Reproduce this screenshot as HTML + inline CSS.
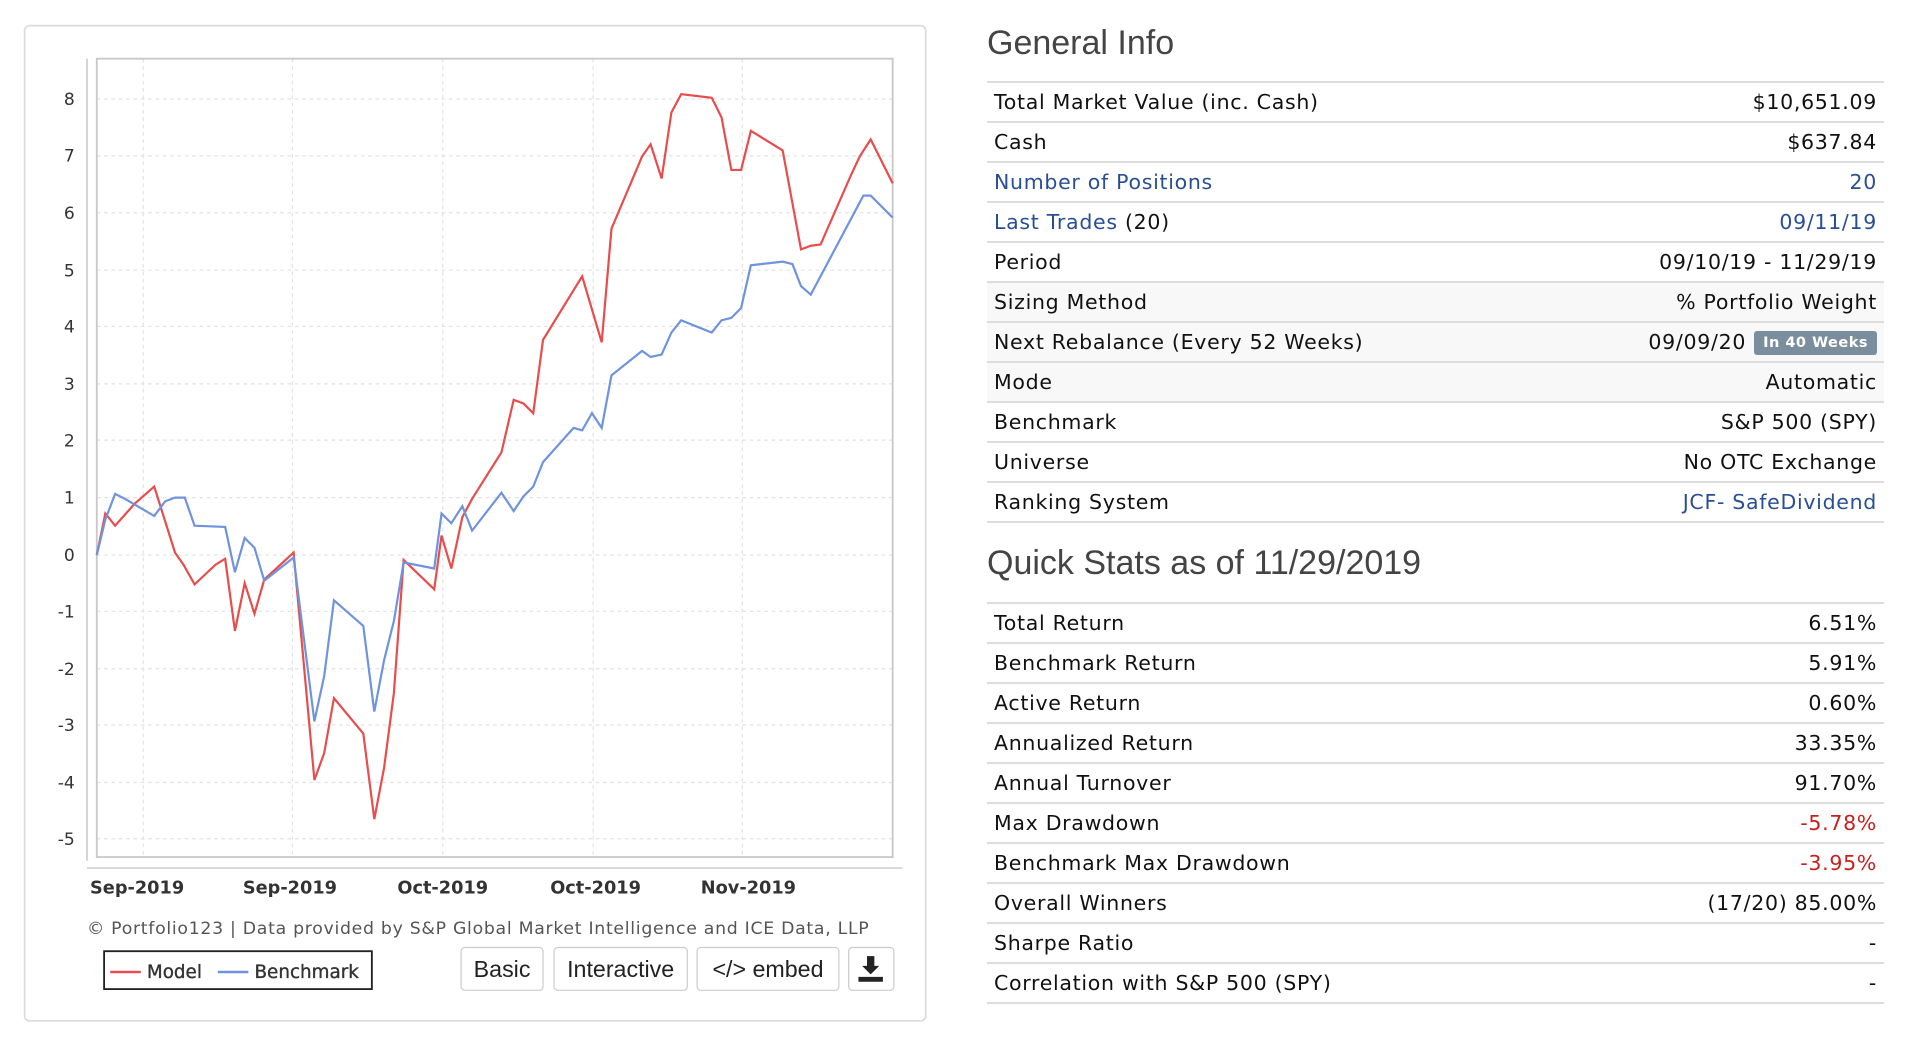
<!DOCTYPE html>
<html><head><meta charset="utf-8"><style>
body{margin:0;width:1908px;height:1038px;background:#fff;position:relative;overflow:hidden;font-family:"DejaVu Sans",Verdana,sans-serif;}
.h{position:absolute;left:987px;font-family:"Liberation Sans",Arial,sans-serif;font-size:34px;color:#444;}
table{position:absolute;left:987px;width:897px;border-collapse:collapse;font-size:20.5px;letter-spacing:0.7px;color:#111;}
td{height:38px;border-top:2px solid #ddd;padding:0 7px;white-space:nowrap;}
tr:last-child td{border-bottom:2px solid #ddd;}
td.r{text-align:right;}
.l{color:#2a4e94}.red{color:#c8201e}
.s td{background:#f8f8f8}
.badge{display:inline-block;background:#7a8e9e;color:#fff;font-weight:bold;font-size:14.5px;letter-spacing:0.5px;padding:4px 9px;border-radius:3px;margin-left:8px;vertical-align:2px}
</style></head><body>
<svg style="position:absolute;left:0;top:0" width="954" height="1038" viewBox="0 0 780 849">
<rect x="20" y="21" width="737" height="814" rx="4" fill="#fff" stroke="#ddd" stroke-width="1.5"/>
<g stroke="#e2e2e2" stroke-dasharray="3,3" stroke-width="1">
<line x1="79" x2="730" y1="81" y2="81"/><line x1="79" x2="730" y1="127.5" y2="127.5"/><line x1="79" x2="730" y1="174" y2="174"/><line x1="79" x2="730" y1="221" y2="221"/><line x1="79" x2="730" y1="267" y2="267"/><line x1="79" x2="730" y1="314" y2="314"/><line x1="79" x2="730" y1="360" y2="360"/><line x1="79" x2="730" y1="407" y2="407"/><line x1="79" x2="730" y1="454" y2="454"/><line x1="79" x2="730" y1="500" y2="500"/><line x1="79" x2="730" y1="547" y2="547"/><line x1="79" x2="730" y1="593" y2="593"/><line x1="79" x2="730" y1="640" y2="640"/><line x1="79" x2="730" y1="686" y2="686"/>
<line y1="48" y2="700" x1="117" x2="117"/><line y1="48" y2="700" x1="239" x2="239"/><line y1="48" y2="700" x1="362" x2="362"/><line y1="48" y2="700" x1="485" x2="485"/><line y1="48" y2="700" x1="607" x2="607"/>
</g>
<rect x="79" y="48" width="651" height="653" fill="none" stroke="#c8c8c8" stroke-width="1.5"/>
<line x1="71" y1="48" x2="71" y2="704" stroke="#bbb"/>
<line x1="71" y1="710" x2="738" y2="710" stroke="#bbb"/>
<g font-family="DejaVu Sans,sans-serif" font-size="14" fill="#333" text-anchor="end">
<text x="61" y="86">8</text><text x="61" y="132">7</text><text x="61" y="179">6</text><text x="61" y="226">5</text><text x="61" y="272">4</text><text x="61" y="319">3</text><text x="61" y="365">2</text><text x="61" y="412">1</text><text x="61" y="459">0</text><text x="61" y="505">-1</text><text x="61" y="552">-2</text><text x="61" y="598">-3</text><text x="61" y="645">-4</text><text x="61" y="691">-5</text>
</g>
<g font-family="DejaVu Sans,sans-serif" font-size="14.5" font-weight="bold" fill="#333" text-anchor="middle">
<text x="112" y="731">Sep-2019</text><text x="237" y="731">Sep-2019</text><text x="362" y="731">Oct-2019</text><text x="487" y="731">Oct-2019</text><text x="612" y="731">Nov-2019</text>
</g>
<polyline fill="none" stroke="#e84d4d" stroke-width="1.8" points="79,454 86,420 94,430 110,412 126,398 143,452 150,462 159,478 176,462 184,457 192,516 200,477 208,502 216,474 240,452 257,638 265,616 273,571 297,600 306,670 314,628 322,567 330,458 355,482 361,438 369,465 378,423 386,408 410,370 420,327 428,330 436,338 444,278 476,226 492,280 500,187 525,128 532,118 541,146 549,92 557,77 582,80 590,96 598,139 606,139 614,107 640,123 655,204 663,201 671,200 696,143 703,128 712,114 730,150"/>
<polyline fill="none" stroke="#6f93dc" stroke-width="1.8" points="79,454 86,425 94,404 102,408 126,422 135,410 143,407 151,407 159,430 184,431 192,468 200,440 208,448 216,475 240,456 257,590 265,553 273,491 297,512 306,582 314,540 322,508 330,460 355,465 361,420 369,428 378,414 386,434 410,403 420,418 428,406 436,398 444,378 469,350 476,352 484,338 492,350 500,307 525,287 532,292 541,290 549,272 557,262 582,272 590,262 598,260 606,252 614,217 640,214 648,216 655,234 663,241 706,160 712,160 730,178"/>
<text x="391" y="764" text-anchor="middle" font-family="DejaVu Sans,sans-serif" font-size="13.5" letter-spacing="0.55" fill="#555" textLength="640" lengthAdjust="spacingAndGlyphs">© Portfolio123 | Data provided by S&amp;P Global Market Intelligence and ICE Data, LLP</text>
<rect x="85" y="778" width="219" height="31" fill="#fff" stroke="#222" stroke-width="1.5"/>
<line x1="90" y1="795" x2="115" y2="795" stroke="#e84d4d" stroke-width="2"/>
<text x="120" y="800" font-family="DejaVu Sans,sans-serif" font-size="15" fill="#333" stroke="#333" stroke-width="0.3">Model</text>
<line x1="178" y1="795" x2="203" y2="795" stroke="#6f93dc" stroke-width="2"/>
<text x="208" y="800" font-family="DejaVu Sans,sans-serif" font-size="15" fill="#333" stroke="#333" stroke-width="0.3">Benchmark</text>
<g font-family="Liberation Sans,Arial,sans-serif" font-size="19" fill="#222" text-anchor="middle">
<rect x="377" y="775" width="67" height="35" rx="3" fill="#fff" stroke="#ccc"/><text x="410.5" y="799">Basic</text>
<rect x="453" y="775" width="109" height="35" rx="3" fill="#fff" stroke="#ccc"/><text x="507.5" y="799">Interactive</text>
<rect x="570" y="775" width="116" height="35" rx="3" fill="#fff" stroke="#ccc"/><text x="628" y="799">&lt;/&gt; embed</text>
<rect x="694" y="775" width="37" height="35" rx="3" fill="#fff" stroke="#ccc"/>
</g>
<path d="M709,782 h6 v8 h4 l-7,7 l-7,-7 h4z M702,799 h20 v4 h-20z" fill="#222"/>
</svg>

<div class="h" style="top:24px">General Info</div>
<table style="top:81px">
<tr><td>Total Market Value (inc. Cash)</td><td class="r">$10,651.09</td></tr>
<tr><td>Cash</td><td class="r">$637.84</td></tr>
<tr><td class="l">Number of Positions</td><td class="r l">20</td></tr>
<tr><td><span class="l">Last Trades</span> (20)</td><td class="r l">09/11/19</td></tr>
<tr><td>Period</td><td class="r">09/10/19 - 11/29/19</td></tr>
<tr class="s"><td>Sizing Method</td><td class="r">% Portfolio Weight</td></tr>
<tr class="s"><td>Next Rebalance (Every 52 Weeks)</td><td class="r">09/09/20<span class="badge">In 40 Weeks</span></td></tr>
<tr class="s"><td>Mode</td><td class="r">Automatic</td></tr>
<tr><td>Benchmark</td><td class="r">S&amp;P 500 (SPY)</td></tr>
<tr><td>Universe</td><td class="r">No OTC Exchange</td></tr>
<tr><td>Ranking System</td><td class="r l">JCF- SafeDividend</td></tr>
</table>
<div class="h" style="top:544px">Quick Stats as of 11/29/2019</div>
<table style="top:602px">
<tr><td>Total Return</td><td class="r">6.51%</td></tr>
<tr><td>Benchmark Return</td><td class="r">5.91%</td></tr>
<tr><td>Active Return</td><td class="r">0.60%</td></tr>
<tr><td>Annualized Return</td><td class="r">33.35%</td></tr>
<tr><td>Annual Turnover</td><td class="r">91.70%</td></tr>
<tr><td>Max Drawdown</td><td class="r red">-5.78%</td></tr>
<tr><td>Benchmark Max Drawdown</td><td class="r red">-3.95%</td></tr>
<tr><td>Overall Winners</td><td class="r">(17/20) 85.00%</td></tr>
<tr><td>Sharpe Ratio</td><td class="r">-</td></tr>
<tr><td>Correlation with S&amp;P 500 (SPY)</td><td class="r">-</td></tr>
</table>
</body></html>
